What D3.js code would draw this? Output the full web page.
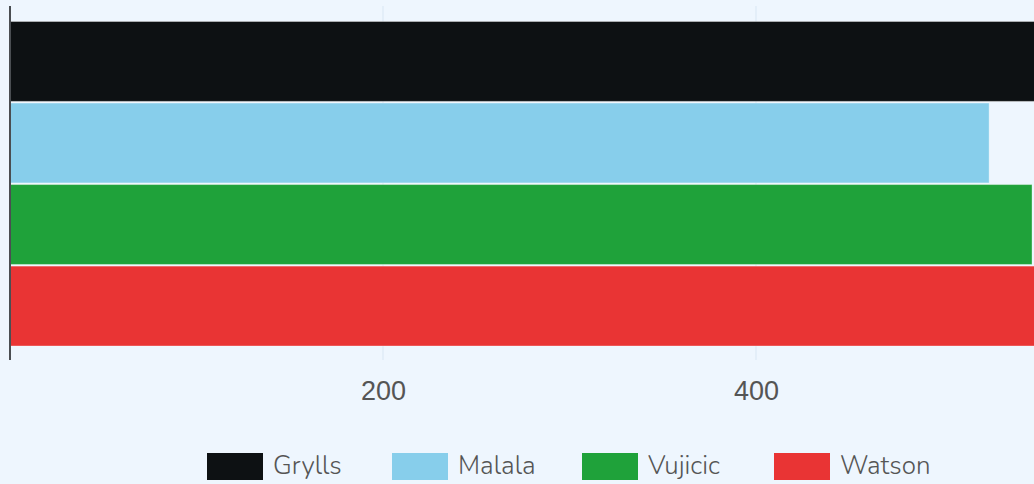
<!DOCTYPE html>
<html>
<head>
<meta charset="utf-8">
<script src="https://cdn.jsdelivr.net/npm/d3@7"></script>
<style>
	body { margin: 0; background: #eef6fe; }
	svg { display: block; font-family: "Nunito", "Lato", "Open Sans", sans-serif; }
</style>
</head>
<body>
<div id="chart"></div>
<script>
// Data
const names = ["Grylls", "Malala", "Vujicic", "Watson"];
const values = [575, 525, 548, 570];
const colors = ["#0d1113", "#87ceeb", "#1fa23a", "#e93434"];
const tickValues = [200, 400];

const width = 1034;
const height = 484;

const svg = d3
	.select("#chart")
	.append("svg")
	.attr("width", width)
	.attr("height", height);

svg.append("rect").attr("width", width).attr("height", height).attr("fill", "#eef6fe");

// Scales: 0 at x=10, 200 at x=383
const x = d3.scaleLinear().domain([0, 200]).range([10, 383]);
const y = d3
	.scaleBand()
	.domain(names)
	.range([21.5, 346])
	.paddingInner(0.02)
	.paddingOuter(0);

// Grid lines
svg
	.selectAll(".grid")
	.data(tickValues)
	.enter()
	.append("line")
	.attr("class", "grid")
	.attr("x1", (d) => x(d))
	.attr("x2", (d) => x(d))
	.attr("y1", 6)
	.attr("y2", 360)
	.attr("stroke", "#d8e6f3")
	.attr("stroke-width", 1);

// Bars
svg
	.selectAll(".bar")
	.data(names)
	.enter()
	.append("rect")
	.attr("class", "bar")
	.attr("x", x(0))
	.attr("y", (d) => y(d))
	.attr("width", (d, i) => x(values[i]) - x(0))
	.attr("height", y.bandwidth())
	.attr("fill", (d, i) => colors[i])
	.attr("stroke", "rgba(255,255,255,0.35)")
	.attr("stroke-width", 1);

// X axis labels
const xAxis = d3.axisBottom(x).tickValues(tickValues).tickSize(0).tickPadding(0);
const gx = svg.append("g").attr("transform", "translate(0,381)").call(xAxis);
gx.select(".domain").remove();
gx.selectAll("text")
	.attr("dy", "0.71em")
	.attr("fill", "#555")
	.style("font-size", "27px")
	.style("font-weight", 300);

// Y axis line
svg
	.append("line")
	.attr("x1", 10)
	.attr("x2", 10)
	.attr("y1", 6)
	.attr("y2", 360)
	.attr("stroke", "#4a4e52")
	.attr("stroke-width", 2);

// Legend
const legendX = [207, 392, 582, 774];
const legend = svg
	.selectAll(".legend")
	.data(names)
	.enter()
	.append("g")
	.attr("class", "legend")
	.attr("transform", (d, i) => "translate(" + legendX[i] + ",453)");

legend
	.append("rect")
	.attr("width", 56)
	.attr("height", 27)
	.attr("fill", (d, i) => colors[i]);

legend
	.append("text")
	.attr("x", 66)
	.attr("y", 21)
	.attr("fill", "#555")
	.style("font-size", "26px")
	.style("font-weight", 300)
	.text((d) => d);
</script>
</body>
</html>
